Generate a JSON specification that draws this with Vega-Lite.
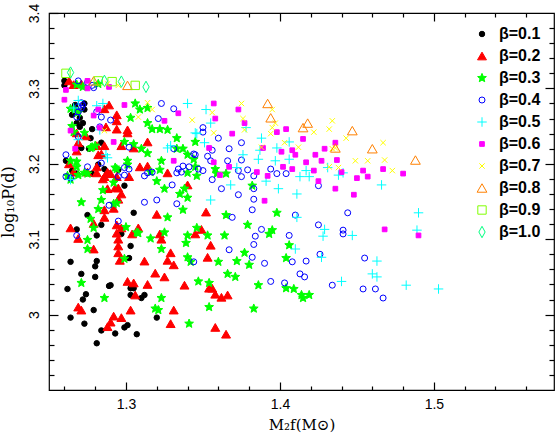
{
  "$schema": "https://vega.github.io/schema/vega-lite/v6.json",
  "width": 505,
  "height": 377,
  "autosize": {"type": "none"},
  "padding": {"left": 49, "top": 13, "right": 5, "bottom": 46},
  "background": "white",
  "config": {
    "view": {"stroke": "black", "strokeWidth": 1.2},
    "axis": {"grid": false, "domain": false, "ticks": true, "tickColor": "#000000", "tickOpacity": 1, "tickWidth": 1.2, "labelColor": "black", "titleColor": "black", "labelFont": "Liberation Sans", "labelFontSize": 14, "titleFont": "DejaVu Serif", "titleFontWeight": "normal"},
    "legend": {"orient": "none", "legendX": 425, "legendY": 13, "padding": 0, "offset": 0, "labelFont": "Liberation Sans", "labelFontSize": 16, "labelFontWeight": "bold", "labelOffset": 9, "rowPadding": 6, "symbolStrokeWidth": 1}
  },
  "data": {"values": [
    {"beta":"0.1","M":1.260,"logP":3.310},{"beta":"0.1","M":1.260,"logP":3.304},{"beta":"0.1","M":1.267,"logP":3.278},{"beta":"0.1","M":1.273,"logP":3.280},{"beta":"0.1","M":1.265,"logP":3.265},{"beta":"0.1","M":1.273,"logP":3.272},{"beta":"0.1","M":1.270,"logP":3.261},{"beta":"0.1","M":1.268,"logP":3.254},{"beta":"0.1","M":1.272,"logP":3.254},{"beta":"0.1","M":1.270,"logP":3.249},{"beta":"0.1","M":1.278,"logP":3.246},{"beta":"0.1","M":1.277,"logP":3.234},{"beta":"0.1","M":1.284,"logP":3.228},{"beta":"0.1","M":1.276,"logP":3.220},{"beta":"0.1","M":1.271,"logP":3.221},{"beta":"0.1","M":1.261,"logP":3.204},{"beta":"0.1","M":1.265,"logP":3.191},{"beta":"0.1","M":1.268,"logP":3.187},{"beta":"0.1","M":1.278,"logP":3.187},{"beta":"0.1","M":1.282,"logP":3.199},{"beta":"0.1","M":1.288,"logP":3.188},{"beta":"0.1","M":1.286,"logP":3.193},{"beta":"0.1","M":1.295,"logP":3.192},{"beta":"0.1","M":1.299,"logP":3.171},{"beta":"0.1","M":1.275,"logP":3.132},{"beta":"0.1","M":1.284,"logP":3.119},{"beta":"0.1","M":1.305,"logP":3.135},{"beta":"0.1","M":1.268,"logP":3.113},{"beta":"0.1","M":1.281,"logP":3.105},{"beta":"0.1","M":1.297,"logP":3.107},{"beta":"0.1","M":1.303,"logP":3.091},{"beta":"0.1","M":1.264,"logP":3.070},{"beta":"0.1","M":1.281,"logP":3.071},{"beta":"0.1","M":1.280,"logP":3.064},{"beta":"0.1","M":1.302,"logP":3.075},{"beta":"0.1","M":1.271,"logP":3.054},{"beta":"0.1","M":1.280,"logP":3.050},{"beta":"0.1","M":1.289,"logP":3.038},{"beta":"0.1","M":1.290,"logP":3.039},{"beta":"0.1","M":1.262,"logP":3.034},{"beta":"0.1","M":1.303,"logP":3.035},{"beta":"0.1","M":1.305,"logP":3.035},{"beta":"0.1","M":1.274,"logP":3.027},{"beta":"0.1","M":1.272,"logP":3.020},{"beta":"0.1","M":1.303,"logP":3.026},{"beta":"0.1","M":1.312,"logP":3.026},{"beta":"0.1","M":1.310,"logP":3.022},{"beta":"0.1","M":1.279,"logP":3.006},{"beta":"0.1","M":1.320,"logP":2.996},{"beta":"0.1","M":1.264,"logP":2.996},{"beta":"0.1","M":1.273,"logP":2.988},{"beta":"0.1","M":1.301,"logP":2.986},{"beta":"0.1","M":1.299,"logP":2.983},{"beta":"0.1","M":1.284,"logP":2.979},{"beta":"0.1","M":1.293,"logP":2.975},{"beta":"0.1","M":1.307,"logP":2.974},{"beta":"0.1","M":1.281,"logP":2.962},
    {"beta":"0.2","M":1.263,"logP":3.310},{"beta":"0.2","M":1.266,"logP":3.305},{"beta":"0.2","M":1.271,"logP":3.306},{"beta":"0.2","M":1.289,"logP":3.278},{"beta":"0.2","M":1.286,"logP":3.273},{"beta":"0.2","M":1.294,"logP":3.265},{"beta":"0.2","M":1.294,"logP":3.257},{"beta":"0.2","M":1.287,"logP":3.249},{"beta":"0.2","M":1.294,"logP":3.246},{"beta":"0.2","M":1.301,"logP":3.245},{"beta":"0.2","M":1.301,"logP":3.241},{"beta":"0.2","M":1.268,"logP":3.241},{"beta":"0.2","M":1.274,"logP":3.237},{"beta":"0.2","M":1.269,"logP":3.228},{"beta":"0.2","M":1.268,"logP":3.217},{"beta":"0.2","M":1.281,"logP":3.224},{"beta":"0.2","M":1.286,"logP":3.224},{"beta":"0.2","M":1.297,"logP":3.224},{"beta":"0.2","M":1.305,"logP":3.221},{"beta":"0.2","M":1.314,"logP":3.229},{"beta":"0.2","M":1.284,"logP":3.213},{"beta":"0.2","M":1.282,"logP":3.212},{"beta":"0.2","M":1.263,"logP":3.200},{"beta":"0.2","M":1.281,"logP":3.196},{"beta":"0.2","M":1.309,"logP":3.196},{"beta":"0.2","M":1.314,"logP":3.197},{"beta":"0.2","M":1.266,"logP":3.189},{"beta":"0.2","M":1.275,"logP":3.189},{"beta":"0.2","M":1.281,"logP":3.188},{"beta":"0.2","M":1.288,"logP":3.189},{"beta":"0.2","M":1.290,"logP":3.187},{"beta":"0.2","M":1.294,"logP":3.183},{"beta":"0.2","M":1.286,"logP":3.183},{"beta":"0.2","M":1.302,"logP":3.183},{"beta":"0.2","M":1.327,"logP":3.188},{"beta":"0.2","M":1.285,"logP":3.180},{"beta":"0.2","M":1.340,"logP":3.172},{"beta":"0.2","M":1.293,"logP":3.168},{"beta":"0.2","M":1.288,"logP":3.167},{"beta":"0.2","M":1.295,"logP":3.168},{"beta":"0.2","M":1.297,"logP":3.160},{"beta":"0.2","M":1.295,"logP":3.153},{"beta":"0.2","M":1.292,"logP":3.141},{"beta":"0.2","M":1.286,"logP":3.139},{"beta":"0.2","M":1.320,"logP":3.133},{"beta":"0.2","M":1.352,"logP":3.136},{"beta":"0.2","M":1.286,"logP":3.129},{"beta":"0.2","M":1.264,"logP":3.115},{"beta":"0.2","M":1.269,"logP":3.101},{"beta":"0.2","M":1.279,"logP":3.121},{"beta":"0.2","M":1.294,"logP":3.119},{"beta":"0.2","M":1.294,"logP":3.108},{"beta":"0.2","M":1.297,"logP":3.115},{"beta":"0.2","M":1.308,"logP":3.115},{"beta":"0.2","M":1.304,"logP":3.107},{"beta":"0.2","M":1.295,"logP":3.100},{"beta":"0.2","M":1.295,"logP":3.091},{"beta":"0.2","M":1.295,"logP":3.082},{"beta":"0.2","M":1.296,"logP":3.072},{"beta":"0.2","M":1.279,"logP":3.087},{"beta":"0.2","M":1.322,"logP":3.107},{"beta":"0.2","M":1.323,"logP":3.100},{"beta":"0.2","M":1.345,"logP":3.107},{"beta":"0.2","M":1.349,"logP":3.113},{"beta":"0.2","M":1.355,"logP":3.092},{"beta":"0.2","M":1.353,"logP":3.076},{"beta":"0.2","M":1.312,"logP":3.071},{"beta":"0.2","M":1.327,"logP":3.072},{"beta":"0.2","M":1.329,"logP":3.082},{"beta":"0.2","M":1.331,"logP":3.066},{"beta":"0.2","M":1.319,"logP":3.055},{"beta":"0.2","M":1.325,"logP":3.050},{"beta":"0.2","M":1.301,"logP":3.044},{"beta":"0.2","M":1.305,"logP":3.042},{"beta":"0.2","M":1.314,"logP":3.040},{"beta":"0.2","M":1.338,"logP":3.039},{"beta":"0.2","M":1.306,"logP":3.026},{"beta":"0.2","M":1.354,"logP":3.035},{"beta":"0.2","M":1.356,"logP":3.035},{"beta":"0.2","M":1.358,"logP":3.027},{"beta":"0.2","M":1.362,"logP":3.023},{"beta":"0.2","M":1.366,"logP":3.026},{"beta":"0.2","M":1.269,"logP":3.010},{"beta":"0.2","M":1.271,"logP":3.006},{"beta":"0.2","M":1.303,"logP":3.006},{"beta":"0.2","M":1.331,"logP":3.006},{"beta":"0.2","M":1.292,"logP":2.998},{"beta":"0.2","M":1.297,"logP":2.996},{"beta":"0.2","M":1.290,"logP":2.990},{"beta":"0.2","M":1.288,"logP":2.984},{"beta":"0.2","M":1.329,"logP":2.988},{"beta":"0.2","M":1.358,"logP":2.983},{"beta":"0.2","M":1.365,"logP":2.974},
    {"beta":"0.3","M":1.268,"logP":3.305},{"beta":"0.3","M":1.272,"logP":3.302},{"beta":"0.3","M":1.282,"logP":3.306},{"beta":"0.3","M":1.264,"logP":3.273},{"beta":"0.3","M":1.267,"logP":3.272},{"beta":"0.3","M":1.269,"logP":3.268},{"beta":"0.3","M":1.273,"logP":3.241},{"beta":"0.3","M":1.265,"logP":3.250},{"beta":"0.3","M":1.266,"logP":3.242},{"beta":"0.3","M":1.280,"logP":3.224},{"beta":"0.3","M":1.278,"logP":3.222},{"beta":"0.3","M":1.277,"logP":3.221},{"beta":"0.3","M":1.306,"logP":3.280},{"beta":"0.3","M":1.314,"logP":3.274},{"beta":"0.3","M":1.309,"logP":3.272},{"beta":"0.3","M":1.303,"logP":3.261},{"beta":"0.3","M":1.314,"logP":3.254},{"beta":"0.3","M":1.317,"logP":3.246},{"beta":"0.3","M":1.322,"logP":3.246},{"beta":"0.3","M":1.327,"logP":3.245},{"beta":"0.3","M":1.333,"logP":3.234},{"beta":"0.3","M":1.299,"logP":3.229},{"beta":"0.3","M":1.305,"logP":3.226},{"beta":"0.3","M":1.310,"logP":3.220},{"beta":"0.3","M":1.314,"logP":3.214},{"beta":"0.3","M":1.323,"logP":3.204},{"beta":"0.3","M":1.333,"logP":3.220},{"beta":"0.3","M":1.337,"logP":3.220},{"beta":"0.3","M":1.340,"logP":3.212},{"beta":"0.3","M":1.293,"logP":3.195},{"beta":"0.3","M":1.301,"logP":3.204},{"beta":"0.3","M":1.268,"logP":3.203},{"beta":"0.3","M":1.264,"logP":3.204},{"beta":"0.3","M":1.275,"logP":3.187},{"beta":"0.3","M":1.273,"logP":3.188},{"beta":"0.3","M":1.268,"logP":3.196},{"beta":"0.3","M":1.262,"logP":3.184},{"beta":"0.3","M":1.269,"logP":3.185},{"beta":"0.3","M":1.264,"logP":3.179},{"beta":"0.3","M":1.292,"logP":3.175},{"beta":"0.3","M":1.285,"logP":3.165},{"beta":"0.3","M":1.284,"logP":3.152},{"beta":"0.3","M":1.292,"logP":3.147},{"beta":"0.3","M":1.271,"logP":3.149},{"beta":"0.3","M":1.282,"logP":3.140},{"beta":"0.3","M":1.294,"logP":3.148},{"beta":"0.3","M":1.279,"logP":3.115},{"beta":"0.3","M":1.300,"logP":3.116},{"beta":"0.3","M":1.308,"logP":3.108},{"beta":"0.3","M":1.316,"logP":3.101},{"beta":"0.3","M":1.275,"logP":3.087},{"beta":"0.3","M":1.299,"logP":3.074},{"beta":"0.3","M":1.323,"logP":3.087},{"beta":"0.3","M":1.325,"logP":3.109},{"beta":"0.3","M":1.327,"logP":3.129},{"beta":"0.3","M":1.325,"logP":3.167},{"beta":"0.3","M":1.320,"logP":3.177},{"beta":"0.3","M":1.337,"logP":3.139},{"beta":"0.3","M":1.335,"logP":3.160},{"beta":"0.3","M":1.338,"logP":3.167},{"beta":"0.3","M":1.340,"logP":3.155},{"beta":"0.3","M":1.340,"logP":3.188},{"beta":"0.3","M":1.340,"logP":3.105},{"beta":"0.3","M":1.339,"logP":3.095},{"beta":"0.3","M":1.340,"logP":3.076},{"beta":"0.3","M":1.346,"logP":3.115},{"beta":"0.3","M":1.347,"logP":3.044},{"beta":"0.3","M":1.271,"logP":3.042},{"beta":"0.3","M":1.286,"logP":3.022},{"beta":"0.3","M":1.323,"logP":3.022},{"beta":"0.3","M":1.319,"logP":3.008},{"beta":"0.3","M":1.321,"logP":3.006},{"beta":"0.3","M":1.341,"logP":2.988},{"beta":"0.3","M":1.322,"logP":3.192},{"beta":"0.3","M":1.316,"logP":3.189},{"beta":"0.3","M":1.301,"logP":3.199},{"beta":"0.3","M":1.294,"logP":3.193},{"beta":"0.3","M":1.277,"logP":3.127},{"beta":"0.3","M":1.275,"logP":3.099},{"beta":"0.3","M":1.307,"logP":3.109},{"beta":"0.3","M":1.345,"logP":3.196},{"beta":"0.3","M":1.346,"logP":3.184},{"beta":"0.3","M":1.358,"logP":3.193},{"beta":"0.3","M":1.359,"logP":3.187},{"beta":"0.3","M":1.365,"logP":3.187},{"beta":"0.3","M":1.382,"logP":3.171},{"beta":"0.3","M":1.365,"logP":3.132},{"beta":"0.3","M":1.379,"logP":3.119},{"beta":"0.3","M":1.395,"logP":3.112},{"beta":"0.3","M":1.393,"logP":3.107},{"beta":"0.3","M":1.398,"logP":3.135},{"beta":"0.3","M":1.353,"logP":3.105},{"beta":"0.3","M":1.364,"logP":3.105},{"beta":"0.3","M":1.406,"logP":3.092},{"beta":"0.3","M":1.377,"logP":3.082},{"beta":"0.3","M":1.372,"logP":3.071},{"beta":"0.3","M":1.360,"logP":3.070},{"beta":"0.3","M":1.380,"logP":3.066},{"beta":"0.3","M":1.404,"logP":3.075},{"beta":"0.3","M":1.366,"logP":3.054},{"beta":"0.3","M":1.371,"logP":3.050},{"beta":"0.3","M":1.354,"logP":3.042},{"beta":"0.3","M":1.386,"logP":3.039},{"beta":"0.3","M":1.404,"logP":3.035},{"beta":"0.3","M":1.409,"logP":3.034},{"beta":"0.3","M":1.414,"logP":3.026},{"beta":"0.3","M":1.415,"logP":3.022},{"beta":"0.3","M":1.419,"logP":3.026},{"beta":"0.3","M":1.383,"logP":3.008},{"beta":"0.3","M":1.354,"logP":3.010},{"beta":"0.3","M":1.342,"logP":3.070},{"beta":"0.3","M":1.345,"logP":3.229},{"beta":"0.3","M":1.344,"logP":3.206},
    {"beta":"0.4","M":1.269,"logP":3.310},{"beta":"0.4","M":1.275,"logP":3.308},{"beta":"0.4","M":1.278,"logP":3.304},{"beta":"0.4","M":1.279,"logP":3.301},{"beta":"0.4","M":1.269,"logP":3.276},{"beta":"0.4","M":1.272,"logP":3.278},{"beta":"0.4","M":1.271,"logP":3.281},{"beta":"0.4","M":1.271,"logP":3.274},{"beta":"0.4","M":1.269,"logP":3.269},{"beta":"0.4","M":1.268,"logP":3.262},{"beta":"0.4","M":1.281,"logP":3.269},{"beta":"0.4","M":1.284,"logP":3.262},{"beta":"0.4","M":1.290,"logP":3.258},{"beta":"0.4","M":1.283,"logP":3.249},{"beta":"0.4","M":1.269,"logP":3.236},{"beta":"0.4","M":1.323,"logP":3.280},{"beta":"0.4","M":1.331,"logP":3.273},{"beta":"0.4","M":1.321,"logP":3.260},{"beta":"0.4","M":1.302,"logP":3.222},{"beta":"0.4","M":1.331,"logP":3.220},{"beta":"0.4","M":1.344,"logP":3.213},{"beta":"0.4","M":1.261,"logP":3.212},{"beta":"0.4","M":1.284,"logP":3.201},{"beta":"0.4","M":1.299,"logP":3.195},{"beta":"0.4","M":1.302,"logP":3.193},{"beta":"0.4","M":1.295,"logP":3.183},{"beta":"0.4","M":1.299,"logP":3.185},{"beta":"0.4","M":1.312,"logP":3.184},{"beta":"0.4","M":1.314,"logP":3.188},{"beta":"0.4","M":1.317,"logP":3.189},{"beta":"0.4","M":1.330,"logP":3.172},{"beta":"0.4","M":1.333,"logP":3.188},{"beta":"0.4","M":1.334,"logP":3.193},{"beta":"0.4","M":1.337,"logP":3.197},{"beta":"0.4","M":1.341,"logP":3.196},{"beta":"0.4","M":1.336,"logP":3.189},{"beta":"0.4","M":1.261,"logP":3.183},{"beta":"0.4","M":1.264,"logP":3.181},{"beta":"0.4","M":1.275,"logP":3.196},{"beta":"0.4","M":1.289,"logP":3.145},{"beta":"0.4","M":1.312,"logP":3.149},{"beta":"0.4","M":1.320,"logP":3.152},{"beta":"0.4","M":1.333,"logP":3.147},{"beta":"0.4","M":1.295,"logP":3.124},{"beta":"0.4","M":1.268,"logP":3.105},{"beta":"0.4","M":1.344,"logP":3.070},{"beta":"0.4","M":1.350,"logP":3.248},{"beta":"0.4","M":1.350,"logP":3.242},{"beta":"0.4","M":1.360,"logP":3.234},{"beta":"0.4","M":1.356,"logP":3.218},{"beta":"0.4","M":1.367,"logP":3.220},{"beta":"0.4","M":1.375,"logP":3.228},{"beta":"0.4","M":1.353,"logP":3.210},{"beta":"0.4","M":1.355,"logP":3.204},{"beta":"0.4","M":1.366,"logP":3.204},{"beta":"0.4","M":1.375,"logP":3.205},{"beta":"0.4","M":1.345,"logP":3.212},{"beta":"0.4","M":1.347,"logP":3.193},{"beta":"0.4","M":1.350,"logP":3.191},{"beta":"0.4","M":1.373,"logP":3.191},{"beta":"0.4","M":1.379,"logP":3.192},{"beta":"0.4","M":1.383,"logP":3.184},{"beta":"0.4","M":1.375,"logP":3.183},{"beta":"0.4","M":1.394,"logP":3.193},{"beta":"0.4","M":1.398,"logP":3.187},{"beta":"0.4","M":1.404,"logP":3.187},{"beta":"0.4","M":1.356,"logP":3.179},{"beta":"0.4","M":1.362,"logP":3.167},{"beta":"0.4","M":1.373,"logP":3.159},{"beta":"0.4","M":1.383,"logP":3.167},{"beta":"0.4","M":1.383,"logP":3.153},{"beta":"0.4","M":1.382,"logP":3.139},{"beta":"0.4","M":1.369,"logP":3.129},{"beta":"0.4","M":1.388,"logP":3.113},{"beta":"0.4","M":1.384,"logP":3.104},{"beta":"0.4","M":1.383,"logP":3.093},{"beta":"0.4","M":1.406,"logP":3.105},{"beta":"0.4","M":1.410,"logP":3.132},{"beta":"0.4","M":1.425,"logP":3.119},{"beta":"0.4","M":1.367,"logP":3.086},{"beta":"0.4","M":1.382,"logP":3.076},{"beta":"0.4","M":1.390,"logP":3.068},{"beta":"0.4","M":1.408,"logP":3.070},{"beta":"0.4","M":1.417,"logP":3.071},{"beta":"0.4","M":1.426,"logP":3.080},{"beta":"0.4","M":1.413,"logP":3.054},{"beta":"0.4","M":1.416,"logP":3.050},{"beta":"0.4","M":1.394,"logP":3.044},{"beta":"0.4","M":1.403,"logP":3.042},{"beta":"0.4","M":1.434,"logP":3.039},{"beta":"0.4","M":1.425,"logP":3.171},{"beta":"0.4","M":1.444,"logP":3.135},{"beta":"0.4","M":1.441,"logP":3.112},{"beta":"0.4","M":1.441,"logP":3.107},{"beta":"0.4","M":1.455,"logP":3.075},{"beta":"0.4","M":1.454,"logP":3.034},{"beta":"0.4","M":1.462,"logP":3.034},{"beta":"0.4","M":1.467,"logP":3.022},
    {"beta":"0.5","M":1.266,"logP":3.274},{"beta":"0.5","M":1.269,"logP":3.284},{"beta":"0.5","M":1.281,"logP":3.277},{"beta":"0.5","M":1.285,"logP":3.280},{"beta":"0.5","M":1.283,"logP":3.245},{"beta":"0.5","M":1.269,"logP":3.232},{"beta":"0.5","M":1.287,"logP":3.212},{"beta":"0.5","M":1.288,"logP":3.208},{"beta":"0.5","M":1.264,"logP":3.179},{"beta":"0.5","M":1.327,"logP":3.221},{"beta":"0.5","M":1.329,"logP":3.224},{"beta":"0.5","M":1.340,"logP":3.280},{"beta":"0.5","M":1.345,"logP":3.241},{"beta":"0.5","M":1.352,"logP":3.272},{"beta":"0.5","M":1.355,"logP":3.254},{"beta":"0.5","M":1.346,"logP":3.240},{"beta":"0.5","M":1.351,"logP":3.228},{"beta":"0.5","M":1.378,"logP":3.248},{"beta":"0.5","M":1.388,"logP":3.234},{"beta":"0.5","M":1.387,"logP":3.218},{"beta":"0.5","M":1.398,"logP":3.221},{"beta":"0.5","M":1.406,"logP":3.229},{"beta":"0.5","M":1.386,"logP":3.206},{"beta":"0.5","M":1.397,"logP":3.204},{"beta":"0.5","M":1.406,"logP":3.206},{"beta":"0.5","M":1.376,"logP":3.212},{"beta":"0.5","M":1.372,"logP":3.195},{"beta":"0.5","M":1.417,"logP":3.191},{"beta":"0.5","M":1.413,"logP":3.183},{"beta":"0.5","M":1.419,"logP":3.183},{"beta":"0.5","M":1.431,"logP":3.195},{"beta":"0.5","M":1.368,"logP":3.172},{"beta":"0.5","M":1.355,"logP":3.152},{"beta":"0.5","M":1.391,"logP":3.177},{"beta":"0.5","M":1.399,"logP":3.167},{"beta":"0.5","M":1.411,"logP":3.160},{"beta":"0.5","M":1.411,"logP":3.129},{"beta":"0.5","M":1.429,"logP":3.113},{"beta":"0.5","M":1.428,"logP":3.104},{"beta":"0.5","M":1.427,"logP":3.076},{"beta":"0.5","M":1.410,"logP":3.087},{"beta":"0.5","M":1.441,"logP":3.188},{"beta":"0.5","M":1.438,"logP":3.185},{"beta":"0.5","M":1.466,"logP":3.172},{"beta":"0.5","M":1.490,"logP":3.135},{"beta":"0.5","M":1.447,"logP":3.105},{"beta":"0.5","M":1.489,"logP":3.112},{"beta":"0.5","M":1.463,"logP":3.071},{"beta":"0.5","M":1.460,"logP":3.054},{"beta":"0.5","M":1.463,"logP":3.050},{"beta":"0.5","M":1.440,"logP":3.044},{"beta":"0.5","M":1.482,"logP":3.039},{"beta":"0.5","M":1.503,"logP":3.034},
    {"beta":"0.6","M":1.261,"logP":3.298},{"beta":"0.6","M":1.260,"logP":3.285},{"beta":"0.6","M":1.275,"logP":3.310},{"beta":"0.6","M":1.275,"logP":3.300},{"beta":"0.6","M":1.289,"logP":3.302},{"beta":"0.6","M":1.282,"logP":3.272},{"beta":"0.6","M":1.264,"logP":3.244},{"beta":"0.6","M":1.299,"logP":3.278},{"beta":"0.6","M":1.279,"logP":3.264},{"beta":"0.6","M":1.283,"logP":3.248},{"beta":"0.6","M":1.292,"logP":3.229},{"beta":"0.6","M":1.267,"logP":3.220},{"beta":"0.6","M":1.334,"logP":3.267},{"beta":"0.6","M":1.325,"logP":3.257},{"beta":"0.6","M":1.331,"logP":3.204},{"beta":"0.6","M":1.357,"logP":3.280},{"beta":"0.6","M":1.358,"logP":3.260},{"beta":"0.6","M":1.373,"logP":3.272},{"beta":"0.6","M":1.377,"logP":3.254},{"beta":"0.6","M":1.369,"logP":3.240},{"beta":"0.6","M":1.398,"logP":3.242},{"beta":"0.6","M":1.404,"logP":3.246},{"beta":"0.6","M":1.415,"logP":3.233},{"beta":"0.6","M":1.389,"logP":3.221},{"beta":"0.6","M":1.401,"logP":3.216},{"beta":"0.6","M":1.408,"logP":3.218},{"beta":"0.6","M":1.410,"logP":3.212},{"beta":"0.6","M":1.417,"logP":3.202},{"beta":"0.6","M":1.423,"logP":3.212},{"beta":"0.6","M":1.429,"logP":3.220},{"beta":"0.6","M":1.436,"logP":3.228},{"beta":"0.6","M":1.437,"logP":3.205},{"beta":"0.6","M":1.427,"logP":3.204},{"beta":"0.6","M":1.422,"logP":3.191},{"beta":"0.6","M":1.402,"logP":3.196},{"beta":"0.6","M":1.408,"logP":3.193},{"beta":"0.6","M":1.392,"logP":3.184},{"beta":"0.6","M":1.385,"logP":3.189},{"beta":"0.6","M":1.367,"logP":3.196},{"beta":"0.6","M":1.354,"logP":3.221},{"beta":"0.6","M":1.357,"logP":3.202},{"beta":"0.6","M":1.361,"logP":3.185},{"beta":"0.6","M":1.425,"logP":3.177},{"beta":"0.6","M":1.436,"logP":3.167},{"beta":"0.6","M":1.390,"logP":3.151},{"beta":"0.6","M":1.440,"logP":3.189},{"beta":"0.6","M":1.454,"logP":3.191},{"beta":"0.6","M":1.450,"logP":3.181},{"beta":"0.6","M":1.457,"logP":3.183},{"beta":"0.6","M":1.467,"logP":3.193},{"beta":"0.6","M":1.480,"logP":3.187},{"beta":"0.6","M":1.448,"logP":3.159},{"beta":"0.6","M":1.468,"logP":3.113},{"beta":"0.6","M":1.490,"logP":3.105},
    {"beta":"0.7","M":1.288,"logP":3.306},{"beta":"0.7","M":1.295,"logP":3.304},{"beta":"0.7","M":1.314,"logP":3.281},{"beta":"0.7","M":1.317,"logP":3.272},{"beta":"0.7","M":1.308,"logP":3.262},{"beta":"0.7","M":1.286,"logP":3.244},{"beta":"0.7","M":1.343,"logP":3.258},{"beta":"0.7","M":1.375,"logP":3.280},{"beta":"0.7","M":1.356,"logP":3.268},{"beta":"0.7","M":1.395,"logP":3.272},{"beta":"0.7","M":1.376,"logP":3.260},{"beta":"0.7","M":1.397,"logP":3.254},{"beta":"0.7","M":1.395,"logP":3.248},{"beta":"0.7","M":1.357,"logP":3.241},{"beta":"0.7","M":1.394,"logP":3.240},{"beta":"0.7","M":1.403,"logP":3.228},{"beta":"0.7","M":1.412,"logP":3.222},{"beta":"0.7","M":1.422,"logP":3.242},{"beta":"0.7","M":1.432,"logP":3.246},{"beta":"0.7","M":1.434,"logP":3.257},{"beta":"0.7","M":1.436,"logP":3.221},{"beta":"0.7","M":1.388,"logP":3.222},{"beta":"0.7","M":1.377,"logP":3.245},{"beta":"0.7","M":1.432,"logP":3.196},{"beta":"0.7","M":1.443,"logP":3.234},{"beta":"0.7","M":1.434,"logP":3.220},{"beta":"0.7","M":1.467,"logP":3.228},{"beta":"0.7","M":1.449,"logP":3.204},{"beta":"0.7","M":1.457,"logP":3.204},{"beta":"0.7","M":1.468,"logP":3.205},{"beta":"0.7","M":1.473,"logP":3.191},{"beta":"0.7","M":1.438,"logP":3.195},
    {"beta":"0.8","M":1.279,"logP":3.310},{"beta":"0.8","M":1.301,"logP":3.304},{"beta":"0.8","M":1.392,"logP":3.280},{"beta":"0.8","M":1.394,"logP":3.261},{"beta":"0.8","M":1.418,"logP":3.254},{"beta":"0.8","M":1.415,"logP":3.248},{"beta":"0.8","M":1.436,"logP":3.221},{"beta":"0.8","M":1.447,"logP":3.244},{"beta":"0.8","M":1.460,"logP":3.220},{"beta":"0.8","M":1.488,"logP":3.205},
    {"beta":"0.9","M":1.261,"logP":3.320},{"beta":"0.9","M":1.282,"logP":3.310},{"beta":"0.9","M":1.291,"logP":3.309},{"beta":"0.9","M":1.306,"logP":3.304},
    {"beta":"1.0","M":1.264,"logP":3.321},{"beta":"1.0","M":1.286,"logP":3.310},{"beta":"1.0","M":1.297,"logP":3.309},{"beta":"1.0","M":1.313,"logP":3.302}
  ]},
  "layer": [
    {
      "mark": {"type": "point", "strokeWidth": 1, "opacity": 1},
      "encoding": {
        "x": {"field": "M", "type": "quantitative", "scale": {"domain": [1.25, 1.578], "nice": false, "zero": false},
              "axis": {"orient": "bottom", "values": [1.3, 1.4, 1.5], "format": ".1f", "offset": -8, "tickSize": 8, "labelPadding": 7, "title": "M₂f(M⊙)", "titleFontSize": 15, "titlePadding": 6}},
        "y": {"field": "logP", "type": "quantitative", "scale": {"domain": [2.9, 3.4], "nice": false, "zero": false},
              "axis": {"orient": "left", "values": [3.0, 3.1, 3.2, 3.3, 3.4], "labelExpr": "datum.value == 3 ? '3' : format(datum.value, '.1f')", "offset": -9, "tickSize": 9, "labelAngle": -90, "labelPadding": 8, "title": "log₁₀P(d)", "titleFontSize": 16, "titlePadding": 11}},
        "shape": {"field": "beta", "type": "nominal", "title": null,
                  "scale": {"domain": ["0.1","0.2","0.3","0.4","0.5","0.6","0.7","0.8","0.9","1.0"],
                            "range": ["circle", "triangle-up", "M0,-1L0.26,-0.36L0.95,-0.31L0.42,0.14L0.59,0.81L0,0.45L-0.59,0.81L-0.42,0.14L-0.95,-0.31L-0.26,-0.36Z", "circle", "M-1,0H1M0,-1V1", "square", "M-0.8,-0.8L0.8,0.8M-0.8,0.8L0.8,-0.8", "triangle-up", "square", "M0,-1L0.55,0L0,1L-0.55,0Z"]},
                  "legend": {"labelExpr": "'β=' + datum.label", "encode": {"labels": {"update": {"fill": {"scale": "stroke", "field": "value"}}}}}},
        "stroke": {"field": "beta", "type": "nominal", "title": null,
                   "scale": {"domain": ["0.1","0.2","0.3","0.4","0.5","0.6","0.7","0.8","0.9","1.0"],
                             "range": ["#000000", "#ff0000", "#00ff00", "#0000ff", "#00ffff", "#ff00ff", "#ffff00", "#ff8000", "#80ff00", "#00ff80"]},
                   "legend": {"labelExpr": "'β=' + datum.label", "encode": {"labels": {"update": {"fill": {"scale": "stroke", "field": "value"}}}}}},
        "fill": {"field": "beta", "type": "nominal", "title": null,
                 "scale": {"domain": ["0.1","0.2","0.3","0.4","0.5","0.6","0.7","0.8","0.9","1.0"],
                           "range": ["#000000", "#ff0000", "#00ff00", "transparent", "transparent", "#ff00ff", "transparent", "transparent", "transparent", "transparent"]},
                 "legend": {"labelExpr": "'β=' + datum.label", "encode": {"labels": {"update": {"fill": {"scale": "stroke", "field": "value"}}}}}},
        "size": {"field": "beta", "type": "nominal", "title": null,
                 "scale": {"type": "ordinal", "domain": ["0.1","0.2","0.3","0.4","0.5","0.6","0.7","0.8","0.9","1.0"],
                           "range": [30, 80, 85, 36, 90, 22, 45, 95, 70, 130]},
                 "legend": {"labelExpr": "'β=' + datum.label", "encode": {"labels": {"update": {"fill": {"scale": "stroke", "field": "value"}}}}}}
      }
    },
    {
      "mark": {"type": "point", "opacity": 0},
      "encoding": {
        "x": {"field": "M", "type": "quantitative", "axis": {"orient": "bottom", "values": [1.26, 1.28, 1.32, 1.34, 1.36, 1.38, 1.42, 1.44, 1.46, 1.48, 1.52, 1.54, 1.56], "offset": -4, "tickSize": 4, "labels": false, "title": null}},
        "y": {"field": "logP", "type": "quantitative", "axis": {"orient": "left", "values": [2.92, 2.94, 2.96, 2.98, 3.02, 3.04, 3.06, 3.08, 3.12, 3.14, 3.16, 3.18, 3.22, 3.24, 3.26, 3.28, 3.32, 3.34, 3.36, 3.38], "offset": -5, "tickSize": 5, "labels": false, "title": null}}
      }
    },
    {
      "mark": {"type": "point", "opacity": 0},
      "encoding": {
        "x": {"field": "M", "type": "quantitative", "axis": {"orient": "top", "values": [1.3, 1.4, 1.5], "offset": -8, "tickSize": 8, "labels": false, "title": null}},
        "y": {"field": "logP", "type": "quantitative", "axis": {"orient": "right", "values": [3.0, 3.1, 3.2, 3.3], "offset": -9, "tickSize": 9, "labels": false, "title": null}}
      }
    },
    {
      "mark": {"type": "point", "opacity": 0},
      "encoding": {
        "x": {"field": "M", "type": "quantitative", "axis": {"orient": "top", "values": [1.26, 1.28, 1.32, 1.34, 1.36, 1.38, 1.42, 1.44, 1.46, 1.48, 1.52, 1.54, 1.56], "offset": -4, "tickSize": 4, "labels": false, "title": null}},
        "y": {"field": "logP", "type": "quantitative", "axis": {"orient": "right", "values": [2.92, 2.94, 2.96, 2.98, 3.02, 3.04, 3.06, 3.08, 3.12, 3.14, 3.16, 3.18, 3.22, 3.24, 3.26, 3.28, 3.32, 3.34, 3.36, 3.38], "offset": -5, "tickSize": 5, "labels": false, "title": null}}
      }
    }
  ],
  "resolve": {"axis": {"x": "independent", "y": "independent"}}
}
